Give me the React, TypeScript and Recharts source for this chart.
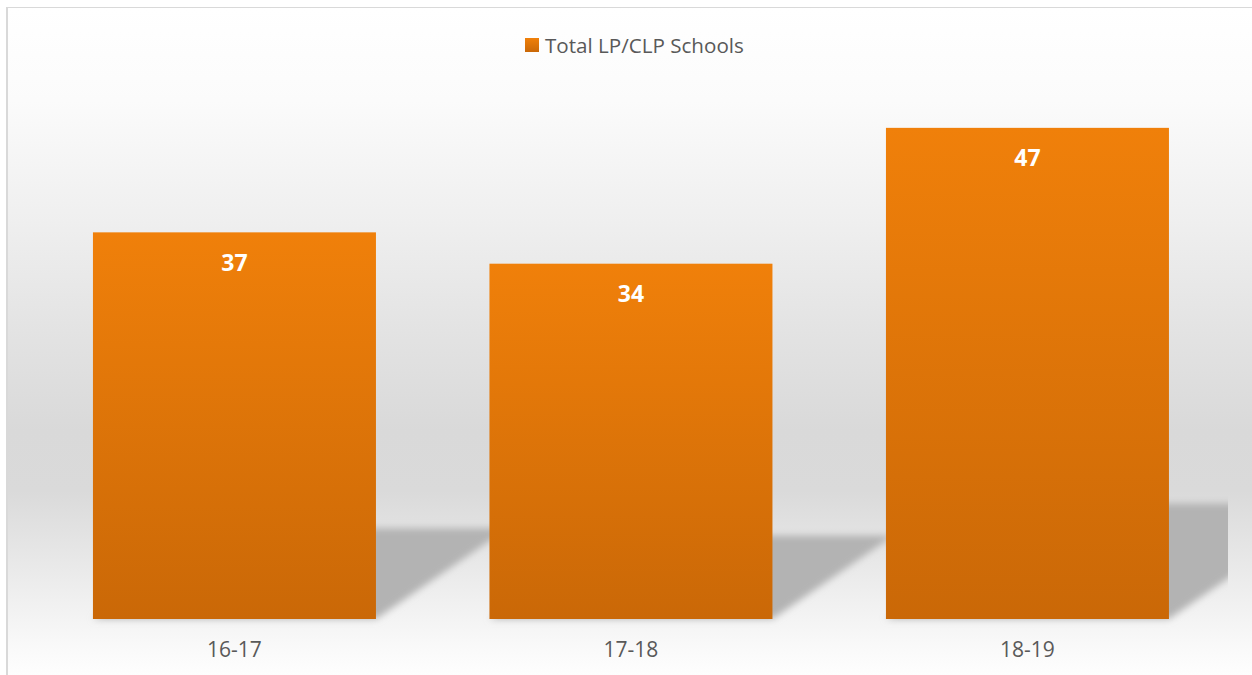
import React from 'react';
import { BarChart, Bar, XAxis, YAxis, Legend, LabelList } from 'recharts';

const categories = ['16-17', '17-18', '18-19'];
const totalSchools = [37, 34, 47];
const seriesName = 'Total LP/CLP Schools';

const data = categories.map((year, i) => ({ year, total: totalSchools[i] }));

const FONT = '"Open Sans", "DejaVu Sans", sans-serif';
const W = 1252;
const H = 675;

// bar with a skewed "floor" shadow cast to the right
const ShadowBar = (props: any) => {
  const { x, y, width, height } = props;
  if (!height) return null;
  const by = y + height;
  const sh = height * 0.235;
  const dx = sh * 1.45;
  const pts = `${x},${by} ${x + width},${by} ${x + width + dx},${by - sh} ${x + dx},${by - sh}`;
  return (
    <g>
      <g clipPath="url(#plotClip)">
        <polygon points={pts} fill="#b3b3b3" filter="url(#shBlur)" />
      </g>
      <rect x={x} y={y} width={width} height={height} fill="url(#barG)" />
    </g>
  );
};

const renderLegend = (props: any) => {
  const { payload } = props;
  return (
    <div style={{ display: 'flex', alignItems: 'center', fontFamily: FONT }}>
      {(payload || []).map((p: any) => (
        <div key={p.value} style={{ display: 'flex', alignItems: 'center' }}>
          <svg width={14} height={14} style={{ marginRight: 6 }}>
            <rect width={14} height={14} fill="url(#barG2)" />
            <defs>
              <linearGradient id="barG2" x1="0" y1="0" x2="0" y2="1">
                <stop offset="0%" stopColor="#f0800a" />
                <stop offset="100%" stopColor="#ca6807" />
              </linearGradient>
            </defs>
          </svg>
          <span style={{ color: '#595959', fontSize: 20.6, lineHeight: '24px' }}>{p.value}</span>
        </div>
      ))}
    </div>
  );
};

export default function App() {
  return (
    <div style={{ position: 'absolute', left: 0, top: 0, width: W, height: H, overflow: 'hidden', background: '#fff' }}>
      <div
        style={{
          position: 'absolute', left: 6, top: 7, width: 1300, height: 700,
          borderLeft: '2px solid #d9d9d9', borderTop: '1px solid #d9d9d9',
          background: 'linear-gradient(to bottom, #ffffff 0px, #fbfbfb 93px, #efefef 213px, #e3e3e3 323px, #d9d9d9 423px, #dadada 483px, #e6e6e6 543px, #f2f2f2 603px, #fafafa 643px, #fefefe 668px)',
        }}
      />
      <div style={{ position: 'absolute', left: 0, top: 0 }}>
        <BarChart width={W} height={H} data={data} barCategoryGap="14.3%"
          margin={{ top: 96.5, right: 26.25, left: 36.25, bottom: 26 }}>
          <defs>
            <linearGradient id="barG" x1="0" y1="0" x2="0" y2="1">
              <stop offset="0%" stopColor="#f0800a" />
              <stop offset="100%" stopColor="#ca6807" />
            </linearGradient>
            <filter id="shBlur" x="-30%" y="-30%" width="160%" height="160%">
              <feGaussianBlur stdDeviation="3.5" />
            </filter>
            <clipPath id="plotClip">
              <rect x={0} y={0} width={1228} height={H} />
            </clipPath>
          </defs>
          <XAxis dataKey="year" axisLine={false} tickLine={false} tickMargin={17} height={30}
            tick={{ fill: '#595959', fontSize: 21, fontFamily: FONT }} />
          <YAxis hide domain={[0, 50]} />
          <Legend verticalAlign="middle" align="center" content={renderLegend}
            wrapperStyle={{ top: 33, left: 525, width: 'auto' }} />
          <Bar dataKey="total" name={seriesName} fill="#e87808" shape={ShadowBar} isAnimationActive={false}>
            <LabelList dataKey="total" position="insideTop" offset={22}
              style={{ fill: '#ffffff', fontSize: 23, fontWeight: 700, fontFamily: FONT }} />
          </Bar>
        </BarChart>
      </div>
    </div>
  );
}
